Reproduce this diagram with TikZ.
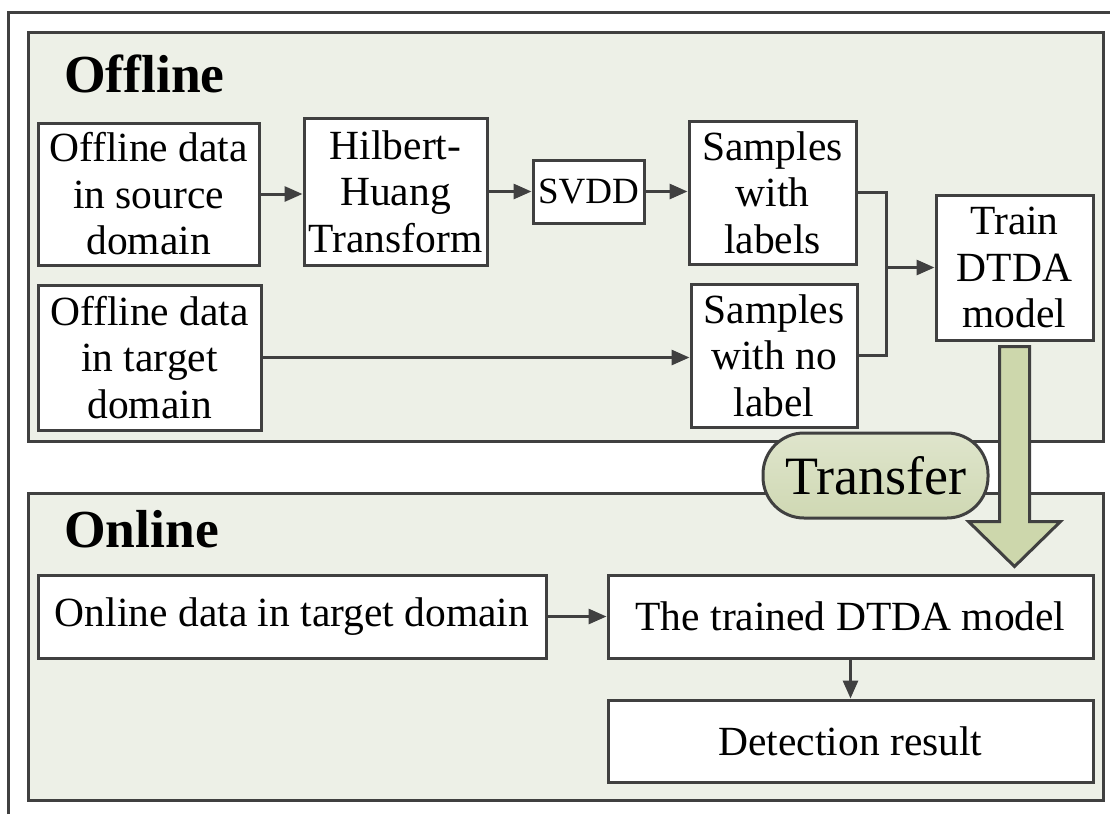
\documentclass[tikz,border=0pt]{standalone}
\usepackage{fontspec}
\setmainfont{Liberation Serif}
\usetikzlibrary{arrows.meta,calc}

\definecolor{linegray}{HTML}{404040}
\definecolor{panelfill}{HTML}{EDF0E7}
\definecolor{pilltop}{HTML}{DFE5CC}
\definecolor{pillbot}{HTML}{CFD8B3}
\definecolor{arrowfill}{HTML}{CDD7AC}

\tikzset{
  panel/.style={draw=linegray, line width=3pt, fill=panelfill, inner sep=0pt, anchor=north west},
  stepbox/.style={draw=linegray, line width=3pt, fill=white, inner sep=0pt, align=center,
    font=\fontsize{41.5}{46.5}\selectfont},
  title/.style={anchor=base west, inner sep=0pt, font=\bfseries\fontsize{53.5}{60}\selectfont},
  link/.style={draw=linegray, line width=3pt},
  arr/.style={link, -{Triangle[length=18pt,width=15pt]}},
  pill/.style={draw=linegray, line width=3pt, top color=pilltop, bottom color=pillbot,
    rounded corners=41pt, minimum width=225pt, minimum height=85pt, inner sep=0pt,
    font=\fontsize{54}{60}\selectfont},
  bigarrow/.style={draw=linegray, line width=3pt, fill=arrowfill, line join=miter}
}

\begin{document}
\begin{tikzpicture}[x=1pt, y=-1pt]
  \useasboundingbox (0,0) rectangle (1110,814);

  % outer frame (left and top edges)
  \draw[link] (8,814) -- (8,12) -- (1110,12);

  % the two stages
  \node[panel, minimum width=1075pt, minimum height=409pt] (offpanel) at (27,31) {};
  \node[panel, minimum width=1075pt, minimum height=307pt] (onpanel) at (27,492) {};
  \node[title] (offtitle) at (64,92) {Offline};
  \node[title] (ontitle) at (64,547) {Online};

  % offline stage
  \node[stepbox, minimum width=221pt, minimum height=142pt] (src) at (148.5,194) {Offline data\\in source\\domain};
  \node[stepbox, minimum width=223pt, minimum height=145pt] (tgt) at (149.5,357.5) {Offline data\\in target\\domain};
  \node[stepbox, minimum width=183pt, minimum height=147pt] (hht) at (395.5,191.5) {Hilbert-\\Huang\\Transform};
  \node[stepbox, minimum width=111pt, minimum height=63pt, font=\fontsize{37}{42}\selectfont] (svdd) at (588.5,191.5) {SVDD};
  \node[stepbox, minimum width=167pt, minimum height=143pt] (lab) at (772.5,192.5) {Samples\\with\\labels};
  \node[stepbox, minimum width=166pt, minimum height=143pt] (nol) at (774,355.5) {Samples\\with no\\label};
  \node[stepbox, minimum width=157pt, minimum height=145pt] (train) at (1014.5,267.5) {Train\\DTDA\\model};

  % online stage
  \node[stepbox, minimum width=508pt, minimum height=83pt] (onl) at (292,616.5) {Online data in target domain};
  \node[stepbox, minimum width=485pt, minimum height=83pt] (trd) at (850.5,616.5) {The trained DTDA model};
  \node[stepbox, minimum width=485pt, minimum height=82pt] (det) at (850.5,741) {Detection result};

  % connectors
  \draw[arr] (src.east) -- (src.east -| hht.west);
  \draw[arr] (hht.east |- svdd.west) -- (svdd.west);
  \draw[arr] (svdd.east) -- (svdd.east -| lab.west);
  \draw[arr] (tgt.east) -- (tgt.east -| nol.west);
  \draw[link] (lab.east) -- ++(29,0) coordinate (merge) |- (nol.east);
  \draw[arr] (merge |- train.west) -- (train.west);
  \draw[arr] (onl.east) -- (trd.west);
  \draw[arr] (trd.south) -- (det.north);

  % transfer of the trained model
  \coordinate (tA) at ([yshift=-5pt]train.south);
  \coordinate (tB) at ([yshift=7pt]tA |- trd.north);
  \draw[bigarrow] ($(tA)+(-15,0)$) -- ($(tA)+(15,0)$) -- ($(tB)+(15,-45)$) -- ($(tB)+(46,-45)$)
    -- (tB) -- ($(tB)+(-46,-45)$) -- ($(tB)+(-15,-45)$) -- cycle;
  \node[pill] (xfer) at (875.5,475.5) {Transfer};
\end{tikzpicture}
\end{document}
